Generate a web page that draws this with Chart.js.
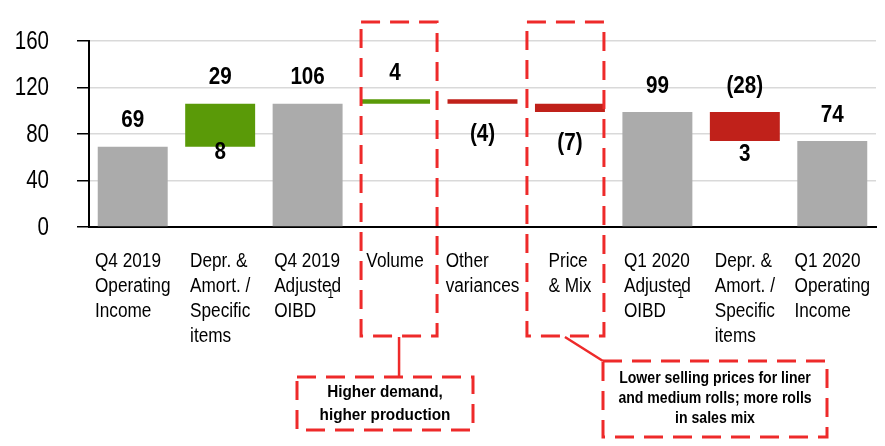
<!DOCTYPE html>
<html>
<head>
<meta charset="utf-8">
<script src="https://cdn.jsdelivr.net/npm/chart.js@4.4.1/dist/chart.umd.min.js"></script>
<style>
  html, body { margin: 0; padding: 0; background: #fff; }
  #wrap { width: 885px; height: 446px; }
</style>
</head>
<body>
<div id="wrap"><canvas id="myChart" width="885" height="446"></canvas></div>
<script>
// waterfall data
const categories = [
  ['Q4 2019', 'Operating', 'Income'],
  ['Depr. &', 'Amort. /', 'Specific', 'items'],
  ['Q4 2019', 'Adjusted', 'OIBD'],
  ['Volume'],
  ['Other', 'variances'],
  ['Price', '& Mix'],
  ['Q1 2020', 'Adjusted', 'OIBD'],
  ['Depr. &', 'Amort. /', 'Specific', 'items'],
  ['Q1 2020', 'Operating', 'Income']
];
const barFrom = [0, 69, 0, 106, 110, 106, 0, 99, 0];
const barTo = [69, 106, 106, 110, 106, 99, 99, 74, 74];
const barKind = ['total', 'up', 'total', 'up', 'down', 'down', 'total', 'down', 'total'];
const labelAbove = ['69', '29', '106', '4', '', '', '99', '(28)', '74'];
const labelBelow = ['', '8', '', '', '(4)', '(7)', '', '3', ''];
const footnoteOn = [2, 6];
const yTicks = [0, 40, 80, 120, 160];
const volumeNote = ['Higher demand,', 'higher production'];
const priceNote = ['Lower selling prices for liner', 'and medium rolls; more rolls', 'in sales mix'];

// no narrow font installed, so squeeze Liberation Sans horizontally
const FONT = '"Liberation Sans", Arial, sans-serif';
const kindColor = { total: '#ababab', up: '#5a9a08', down: '#c0211a' };
const dashRed = '#ee2a2a';
// gap under the bar for the lower labels (as placed in the slide)
const belowGap = [0, 6, 0, 0, 31, 31, 0, 13, 0];

function narrow(ctx, text, x, y, sx, align) {
  ctx.save();
  ctx.translate(x, y);
  ctx.scale(sx, 1);
  ctx.textAlign = align;
  ctx.fillText(text, 0, 0);
  ctx.restore();
}

function dashedRect(ctx, x, y, w, h) {
  ctx.save();
  ctx.strokeStyle = dashRed;
  ctx.lineWidth = 3;
  ctx.setLineDash([19, 10]);
  ctx.strokeRect(x, y, w, h);
  ctx.restore();
}

const textPlugin = {
  id: 'waterfallText',
  afterDraw(chart) {
    const ctx = chart.ctx;
    const meta = chart.getDatasetMeta(0);
    const xs = chart.scales.x;
    const ys = chart.scales.y;
    ctx.save();
    ctx.fillStyle = '#000';

    // y tick labels
    ctx.textBaseline = 'middle';
    ctx.font = '25px ' + FONT;
    yTicks.forEach(v => narrow(ctx, String(v), 49, ys.getPixelForValue(v) + 1, 0.82, 'right'));

    // value labels
    ctx.font = 'bold 24px ' + FONT;
    meta.data.forEach((bar, i) => {
      const top = Math.min(bar.y, bar.base);
      const bottom = Math.max(bar.y, bar.base);
      if (labelAbove[i]) narrow(ctx, labelAbove[i], bar.x, top - 26, 0.86, 'center');
      if (labelBelow[i]) narrow(ctx, labelBelow[i], bar.x, bottom + belowGap[i], 0.86, 'center');
    });

    // category labels: left aligned lines, block centred under the bar
    const sx = 0.86;
    ctx.font = '20px ' + FONT;
    ctx.textBaseline = 'alphabetic';
    categories.forEach((lines, i) => {
      const cx = xs.getPixelForValue(i);
      const w = Math.max(...lines.map(l => ctx.measureText(l).width)) * sx;
      lines.forEach((l, j) => narrow(ctx, l, cx - w / 2, xs.top + 40 + j * 25, sx, 'left'));
    });
    ctx.font = '13px ' + FONT;
    footnoteOn.forEach(i => {
      narrow(ctx, '1', xs.getPixelForValue(i) + 20, xs.top + 71, 0.86, 'left');
    });

    // highlight boxes
    const vx = xs.getPixelForValue(3);
    const px = xs.getPixelForValue(5);
    dashedRect(ctx, vx - 34, 22, 76, 314);
    dashedRect(ctx, px - 43, 22, 77, 314);

    // connectors
    ctx.strokeStyle = dashRed;
    ctx.lineWidth = 2.5;
    ctx.beginPath();
    ctx.moveTo(vx + 4, 337);
    ctx.lineTo(vx + 4, 377);
    ctx.moveTo(px - 5, 337);
    ctx.lineTo(603, 361);
    ctx.stroke();

    // callouts
    dashedRect(ctx, 297, 377, 176, 53);
    dashedRect(ctx, 603, 361, 224, 76);
    ctx.fillStyle = '#000';
    ctx.font = 'bold 17px ' + FONT;
    volumeNote.forEach((l, j) => narrow(ctx, l, 385, 397 + j * 23, 0.9, 'center'));
    ctx.font = 'bold 16px ' + FONT;
    priceNote.forEach((l, j) => narrow(ctx, l, 715, 383 + j * 20, 0.88, 'center'));
    ctx.restore();
  }
};

new Chart(document.getElementById('myChart'), {
  type: 'bar',
  data: {
    labels: categories.map(c => c.join(' ')),
    datasets: [{
      data: barFrom.map((f, i) => [f, barTo[i]]),
      backgroundColor: barKind.map(k => kindColor[k]),
      borderWidth: 0,
      borderSkipped: false,
      categoryPercentage: 0.8,
      barPercentage: 1
    }]
  },
  options: {
    responsive: false,
    animation: false,
    layout: { padding: { top: 41, right: 9, left: 0, bottom: 0 } },
    plugins: { legend: { display: false }, tooltip: { enabled: false } },
    scales: {
      x: {
        grid: { display: false },
        border: { color: '#000', width: 2 },
        ticks: { display: false },
        afterFit: s => { s.height = 219; }
      },
      y: {
        min: 0,
        max: 160,
        afterBuildTicks: s => { s.ticks = yTicks.map(v => ({ value: v })); },
        grid: { color: '#d9d9d9', lineWidth: 1.5, tickColor: '#000', tickLength: 12 },
        border: { color: '#000', width: 2 },
        ticks: { display: false },
        afterFit: s => { s.width = 89; }
      }
    }
  },
  plugins: [textPlugin]
});
</script>
</body>
</html>
